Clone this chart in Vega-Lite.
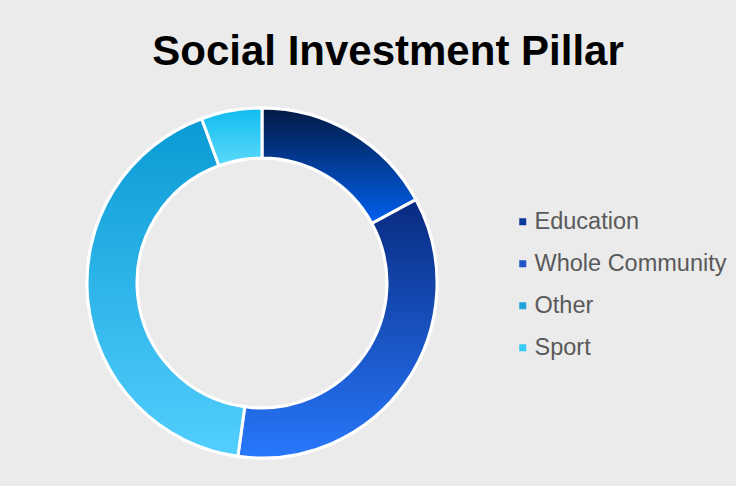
{
  "$schema": "https://vega.github.io/schema/vega-lite/v6.json",
  "autosize": "none",
  "width": 486,
  "height": 556,
  "padding": {"left": 19, "top": 5, "right": 231, "bottom": 0},
  "background": "#ebebeb",
  "config": {"view": {"stroke": null}},
  "title": {
    "text": "Social Investment Pillar",
    "font": "Liberation Sans",
    "fontSize": 42,
    "fontWeight": "bold",
    "color": "#000000",
    "anchor": "middle",
    "baseline": "alphabetic",
    "offset": 0,
    "dx": 126,
    "dy": 102
  },
  "data": {
    "values": [
      {"pillar": "Education", "value": 17.1},
      {"pillar": "Whole Community", "value": 35.1},
      {"pillar": "Other", "value": 42.2},
      {"pillar": "Sport", "value": 5.6}
    ]
  },
  "transform": [
    {"window": [{"op": "row_number", "as": "i"}]},
    {"stack": "value", "groupby": [], "sort": [{"field": "i", "order": "ascending"}], "as": ["t0", "t1"]}
  ],
  "encoding": {
    "theta": {"field": "t0", "type": "quantitative", "scale": {"domain": [0, 100]}},
    "theta2": {"field": "t1"}
  },
  "layer": [
    {
      "mark": {"type": "arc", "radius": 175, "radius2": 125, "stroke": "white", "strokeWidth": 3},
      "encoding": {
        "color": {
          "field": "pillar",
          "type": "nominal",
          "scale": {
            "domain": ["Education", "Whole Community", "Other", "Sport"],
            "range": ["#0b3a9e", "#1f55c8", "#1ea4dc", "#35c9f3"]
          },
          "legend": {
            "orient": "none",
            "legendX": 492,
            "legendY": 205,
            "title": null,
            "padding": 0,
            "symbolType": "square",
            "symbolSize": 49,
            "symbolStrokeWidth": 0,
            "symbolOpacity": 1,
            "labelFont": "Liberation Sans",
            "labelFontSize": 23.5,
            "labelColor": "#595959",
            "labelOffset": 0,
            "labelLimit": 400,
            "rowPadding": 17
          }
        }
      }
    },
    {
      "transform": [{"filter": "datum.pillar === 'Education'"}],
      "mark": {"type": "arc", "radius": 175, "radius2": 125, "stroke": "white", "strokeWidth": 3,
        "fill": {"gradient": "linear", "x1": 0, "y1": 0, "x2": 0, "y2": 1, "stops": [{"offset": 0, "color": "#031a44"}, {"offset": 1, "color": "#0060f0"}]}}
    },
    {
      "transform": [{"filter": "datum.pillar === 'Whole Community'"}],
      "mark": {"type": "arc", "radius": 175, "radius2": 125, "stroke": "white", "strokeWidth": 3,
        "fill": {"gradient": "linear", "x1": 0, "y1": 0, "x2": 0, "y2": 1, "stops": [{"offset": 0, "color": "#082a80"}, {"offset": 1, "color": "#2878fc"}]}}
    },
    {
      "transform": [{"filter": "datum.pillar === 'Other'"}],
      "mark": {"type": "arc", "radius": 175, "radius2": 125, "stroke": "white", "strokeWidth": 3,
        "fill": {"gradient": "linear", "x1": 0, "y1": 0, "x2": 0, "y2": 1, "stops": [{"offset": 0, "color": "#0a9ad4"}, {"offset": 1, "color": "#52cffd"}]}}
    },
    {
      "transform": [{"filter": "datum.pillar === 'Sport'"}],
      "mark": {"type": "arc", "radius": 175, "radius2": 125, "stroke": "white", "strokeWidth": 3,
        "fill": {"gradient": "linear", "x1": 0, "y1": 0, "x2": 0, "y2": 1, "stops": [{"offset": 0, "color": "#0fbcef"}, {"offset": 1, "color": "#5cd9fb"}]}}
    }
  ]
}
